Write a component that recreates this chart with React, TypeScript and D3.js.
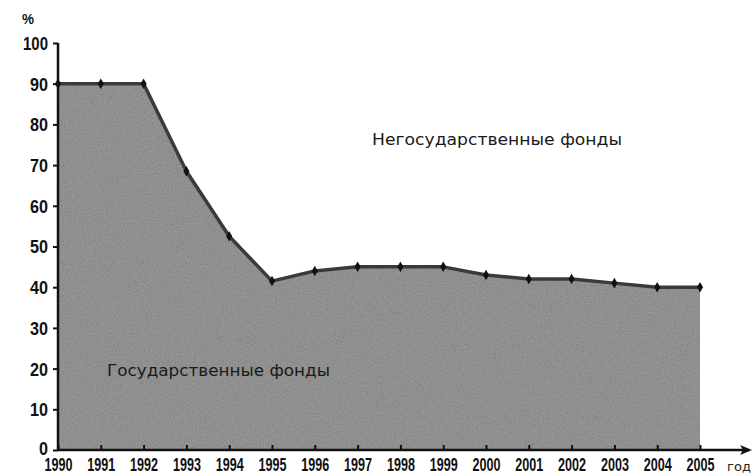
import React, { useEffect, useRef } from 'react';
import * as d3 from 'd3';

const years = [1990, 1991, 1992, 1993, 1994, 1995, 1996, 1997, 1998, 1999, 2000, 2001, 2002, 2003, 2004, 2005];
const stateShare = [90, 90, 90, 68.5, 52.5, 41.5, 44, 45, 45, 45, 43, 42, 42, 41, 40, 40];
const yTicks = [0, 10, 20, 30, 40, 50, 60, 70, 80, 90, 100];

const W = 755;
const H = 476;
const tickFont = '"Liberation Sans", Arial, sans-serif';
const labelFont = '"DejaVu Sans", sans-serif';

export default function App() {
  const svgRef = useRef<SVGSVGElement>(null);

  useEffect(() => {
    const svg = d3.select(svgRef.current);
    svg.selectAll('*').remove();

    const x = d3.scaleLinear().domain([1990, 2005]).range([58, 700]);
    const y = d3.scaleLinear().domain([0, 100]).range([450, 43]);

    // grain filter for the scanned look
    const defs = svg.append('defs');
    const f = defs.append('filter').attr('id', 'grain').attr('x', 0).attr('y', 0).attr('width', 1).attr('height', 1);
    f.append('feTurbulence').attr('type', 'fractalNoise').attr('baseFrequency', 0.9).attr('numOctaves', 2).attr('seed', 3).attr('result', 'n');
    f.append('feColorMatrix').attr('in', 'n').attr('type', 'saturate').attr('values', 0).attr('result', 'g');
    f.append('feComposite').attr('in', 'g').attr('in2', 'SourceGraphic').attr('operator', 'arithmetic')
      .attr('k1', 0).attr('k2', 0.35).attr('k3', 0.85).attr('k4', -0.1).attr('result', 'mix');
    f.append('feComposite').attr('in', 'mix').attr('in2', 'SourceGraphic').attr('operator', 'in');

    const data = years.map((yr, i) => ({ yr, v: stateShare[i] }));

    const area = d3.area<{ yr: number; v: number }>()
      .x((d) => x(d.yr))
      .y0(y(0))
      .y1((d) => y(d.v));

    const line = d3.line<{ yr: number; v: number }>()
      .x((d) => x(d.yr))
      .y((d) => y(d.v));

    svg.append('path').datum(data).attr('d', area).attr('fill', '#8f8f8f').attr('filter', 'url(#grain)');
    svg.append('path').datum(data).attr('d', line).attr('fill', 'none').attr('stroke', '#3a3a3a')
      .attr('stroke-width', 3.5).attr('stroke-linejoin', 'round');

    svg.selectAll('path.pt').data(data).enter().append('path')
      .attr('class', 'pt')
      .attr('d', d3.symbol(d3.symbolDiamond, 32))
      .attr('transform', (d) => `translate(${x(d.yr)},${y(d.v)})`)
      .attr('fill', '#111');

    // y axis
    const yAxis = svg.append('g').attr('transform', `translate(${x(1990)},0)`)
      .call(d3.axisLeft(y).tickValues(yTicks).tickSize(5).tickPadding(5));
    yAxis.select('.domain').attr('stroke', '#111').attr('stroke-width', 2.5).attr('d', `M0,${y(0)}V${y(100)}`);
    yAxis.selectAll('.tick line').attr('stroke', '#111').attr('stroke-width', 2);
    yAxis.selectAll<SVGTextElement, number>('.tick text')
      .attr('font-family', tickFont).attr('font-size', 19).attr('font-weight', 'bold')
      .attr('fill', '#111')
      .attr('textLength', (d) => (d >= 100 ? 25 : d >= 10 ? 18 : 9))
      .attr('lengthAdjust', 'spacingAndGlyphs')
      .attr('dy', (d) => (d === 0 ? '0.22em' : '0.34em'));

    // x axis
    const xAxis = svg.append('g').attr('transform', `translate(0,${y(0)})`)
      .call(d3.axisBottom(x).tickValues(years).tickFormat(d3.format('d')).tickSize(0).tickPadding(8));
    xAxis.select('.domain').remove();
    xAxis.append('line').attr('x1', x(1990)).attr('x2', 744).attr('y1', 0).attr('y2', 0)
      .attr('stroke', '#111').attr('stroke-width', 2.5);
    xAxis.append('path').attr('d', 'M752,0 L740,-5 L743,0 L740,5 Z').attr('fill', '#111');
    xAxis.selectAll('.tick').append('line').attr('y1', 0).attr('y2', -5).attr('stroke', '#111').attr('stroke-width', 2);
    xAxis.selectAll('.tick text')
      .attr('font-family', tickFont).attr('font-size', 19).attr('font-weight', 'bold')
      .attr('textLength', 28).attr('lengthAdjust', 'spacingAndGlyphs')
      .attr('fill', '#111');

    svg.append('text').attr('x', 739).attr('y', 471).attr('text-anchor', 'middle')
      .attr('font-family', labelFont).attr('font-size', 13)
      .attr('fill', '#222').text('год');

    svg.append('text').attr('x', 28).attr('y', 24).attr('text-anchor', 'middle')
      .attr('font-family', tickFont).attr('font-size', 15).attr('font-weight', 'bold')
      .attr('textLength', 12).attr('lengthAdjust', 'spacingAndGlyphs').attr('fill', '#111').text('%');

    svg.append('text').attr('x', 372).attr('y', 145)
      .attr('font-family', labelFont).attr('font-size', 16)
      .attr('textLength', 250).attr('lengthAdjust', 'spacingAndGlyphs')
      .attr('fill', '#1a1a1a').text('Негосударственные фонды');

    svg.append('text').attr('x', 107).attr('y', 376)
      .attr('font-family', labelFont).attr('font-size', 16)
      .attr('textLength', 223).attr('lengthAdjust', 'spacingAndGlyphs')
      .attr('fill', '#1a1a1a').text('Государственные фонды');
  }, []);

  return (
    <div style={{ position: 'absolute', left: 0, top: 0, width: W, height: H, background: '#fff' }}>
      <svg ref={svgRef} width={W} height={H} style={{ display: 'block' }}></svg>
    </div>
  );
}
